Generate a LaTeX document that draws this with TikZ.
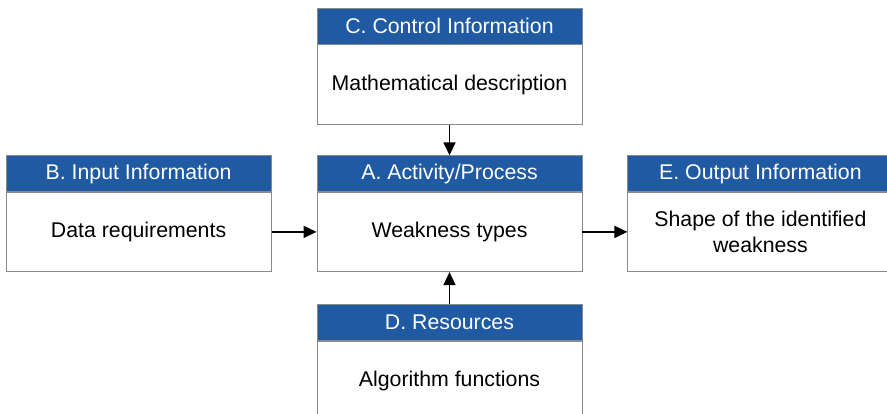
\documentclass[tikz,border=0pt]{standalone}
\usepackage{fontspec}
\setmainfont{Liberation Sans}
\usetikzlibrary{positioning,arrows.meta}
\definecolor{headblue}{HTML}{1F5AA3}
\definecolor{boxgray}{HTML}{8A8A8A}
\begin{document}
\begin{tikzpicture}[x=1pt,y=-1pt,font=\fontsize{21.3}{26}\selectfont,
	head/.style={rectangle,fill=headblue,draw=boxgray,line width=0.9pt,text=white,minimum width=265pt,minimum height=35.5pt,inner sep=0pt},
	body/.style={rectangle,fill=white,draw=boxgray,line width=0.9pt,minimum width=265pt,minimum height=79.5pt,align=center,inner sep=0pt},
	link/.style={-{Triangle[length=13pt,width=12pt]},line width=1.6pt}]
	\useasboundingbox (0,0) rectangle (887,413);
	% centre column
	\node[head] (acthead) at (449.5,173.5) {A. Activity/Process};
	\node[body,below=0pt of acthead] (act) {Weakness types};
	\node[body,above=30.5pt of acthead] (ctrl) {Mathematical description};
	\node[head,above=0pt of ctrl] (ctrlhead) {C. Control Information};
	\node[head,below=32pt of act] (reshead) {D. Resources};
	\node[body,below=0pt of reshead] (res) {Algorithm functions};
	% left and right
	\node[head,left=45pt of acthead] (inhead) {B. Input Information};
	\node[body,below=0pt of inhead] (input) {Data requirements};
	\node[head,right=45pt of acthead] (outhead) {E. Output Information};
	\node[body,below=0pt of outhead] (output) {Shape of the identified\\weakness};
	% arrows into the process
	\draw[link] (ctrl) -- (acthead);
	\draw[link] (reshead) -- (act);
	\draw[link] (input) -- (act);
	\draw[link] (act) -- (output);
\end{tikzpicture}
\end{document}
